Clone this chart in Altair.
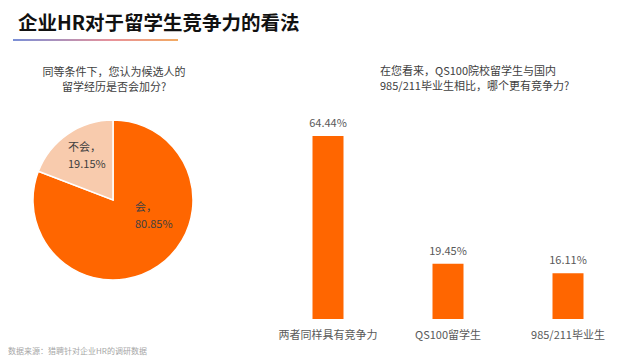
import altair as alt
import pandas as pd

FONT = "Noto Sans CJK SC"

title_text = "企业HR对于留学生竞争力的看法"
footer_text = "数据来源：猎聘针对企业HR的调研数据"
pie_question = "同等条件下，您认为候选人的\n留学经历是否会加分?"
bar_question = "在您看来，QS100院校留学生与国内\n985/211毕业生相比，哪个更有竞争力?"

pie_labels = ["会", "不会"]
pie_values = [80.85, 19.15]
pie_colors = ["#FF6600", "#F8CBAD"]

bar_categories = ["两者同样具有竞争力", "QS100留学生", "985/211毕业生"]
bar_values = [64.44, 19.45, 16.11]

pie_df = pd.DataFrame({
    "label": pie_labels,
    "value": pie_values,
    "order": list(range(len(pie_labels))),
    "text": [f"{l}，\n{v:.2f}%" for l, v in zip(pie_labels, pie_values)],
})
bar_df = pd.DataFrame({
    "cat": bar_categories,
    "value": bar_values,
    "text": [f"{v:.2f}%" for v in bar_values],
})

def note(txt, x, y, **kw):
    return alt.Chart(pd.DataFrame({"t": [txt]})).mark_text(
        font=FONT, lineBreak="\n", **kw
    ).encode(text="t:N", x=alt.value(x), y=alt.value(y))

title = note(title_text, 10, 16, fontSize=19.5, fontWeight="bold", align="left", color="#111111")
underline = alt.Chart(pd.DataFrame({"a": [0]})).mark_rect(
    fill=alt.Gradient(
        gradient="linear",
        stops=[alt.GradientStop(color="#7A8FD6", offset=0),
               alt.GradientStop(color="#E8929A", offset=0.6),
               alt.GradientStop(color="#F2AA62", offset=1)],
        x1=0, x2=1, y1=0, y2=0,
    )
).encode(x=alt.value(5), x2=alt.value(170), y=alt.value(31), y2=alt.value(33))
footer = note(footer_text, 0, 344, fontSize=8, align="left", color="#A6A6A6")
q1 = note(pie_question, 106, 65, fontSize=11, align="center", lineHeight=15, color="#404040")
q2 = note(bar_question, 372, 64, fontSize=11, align="left", lineHeight=15, color="#404040")

total = sum(pie_values)
theta_scale = alt.Scale(domain=[0, total])
color = alt.Color("label:N", scale=alt.Scale(domain=pie_labels, range=pie_colors), legend=None)
arcs = alt.Chart(pie_df).mark_arc(outerRadius=80, stroke="white", strokeWidth=1.5).encode(
    theta=alt.Theta("value:Q", stack=True, scale=theta_scale),
    color=color, order=alt.Order("order:Q"),
    x=alt.value(105), y=alt.value(192))

lab_base = alt.Chart(pie_df).transform_window(
    cum="sum(value)", sort=[alt.SortField("order")]
).transform_calculate(mid="datum.cum - datum.value / 2").encode(
    theta=alt.Theta("mid:Q", stack=None, scale=theta_scale),
    x=alt.value(105), y=alt.value(192), text="text:N")
lab_no = lab_base.transform_filter(alt.datum.label == "不会").mark_text(
    radius=53, font=FONT, fontSize=11, lineBreak="\n", lineHeight=17,
    align="left", dx=-15, dy=-8, color="#404040")
lab_yes = lab_base.transform_filter(alt.datum.label == "会").mark_text(
    radius=30, font=FONT, fontSize=11, lineBreak="\n", lineHeight=17,
    align="left", dx=5, dy=-17, color="#404040")

y_scale = alt.Scale(domain=[0, 100], range=[311, 27])
xs = alt.X("cat:N", sort=bar_categories, axis=None,
           scale=alt.Scale(range=[260, 620], paddingInner=0, paddingOuter=0))
ys = alt.Y("value:Q", axis=None, scale=y_scale)
bar_base = alt.Chart(bar_df).encode(x=xs)
bars = bar_base.mark_bar(width=31, color="#FF6600").encode(y=ys)
vals = bar_base.mark_text(font=FONT, fontSize=11, dy=-12, color="#595959").encode(y=ys, text="text:N")
cats = bar_base.mark_text(font=FONT, fontSize=11, baseline="middle", color="#595959").encode(
    y=alt.Y(datum=0, scale=y_scale, axis=None),
    text="cat:N", yOffset=alt.value(17))

chart = alt.layer(
    title, underline, q1, q2, arcs, lab_no, lab_yes, bars, vals, cats, footer
).resolve_scale(color="independent").properties(
    width=605, height=348, autosize=alt.AutoSizeParams(type="none"), padding=0,
    background="white"
).configure_view(strokeWidth=0)

chart.save("out.html", embed_options={"renderer": "svg", "actions": False})
